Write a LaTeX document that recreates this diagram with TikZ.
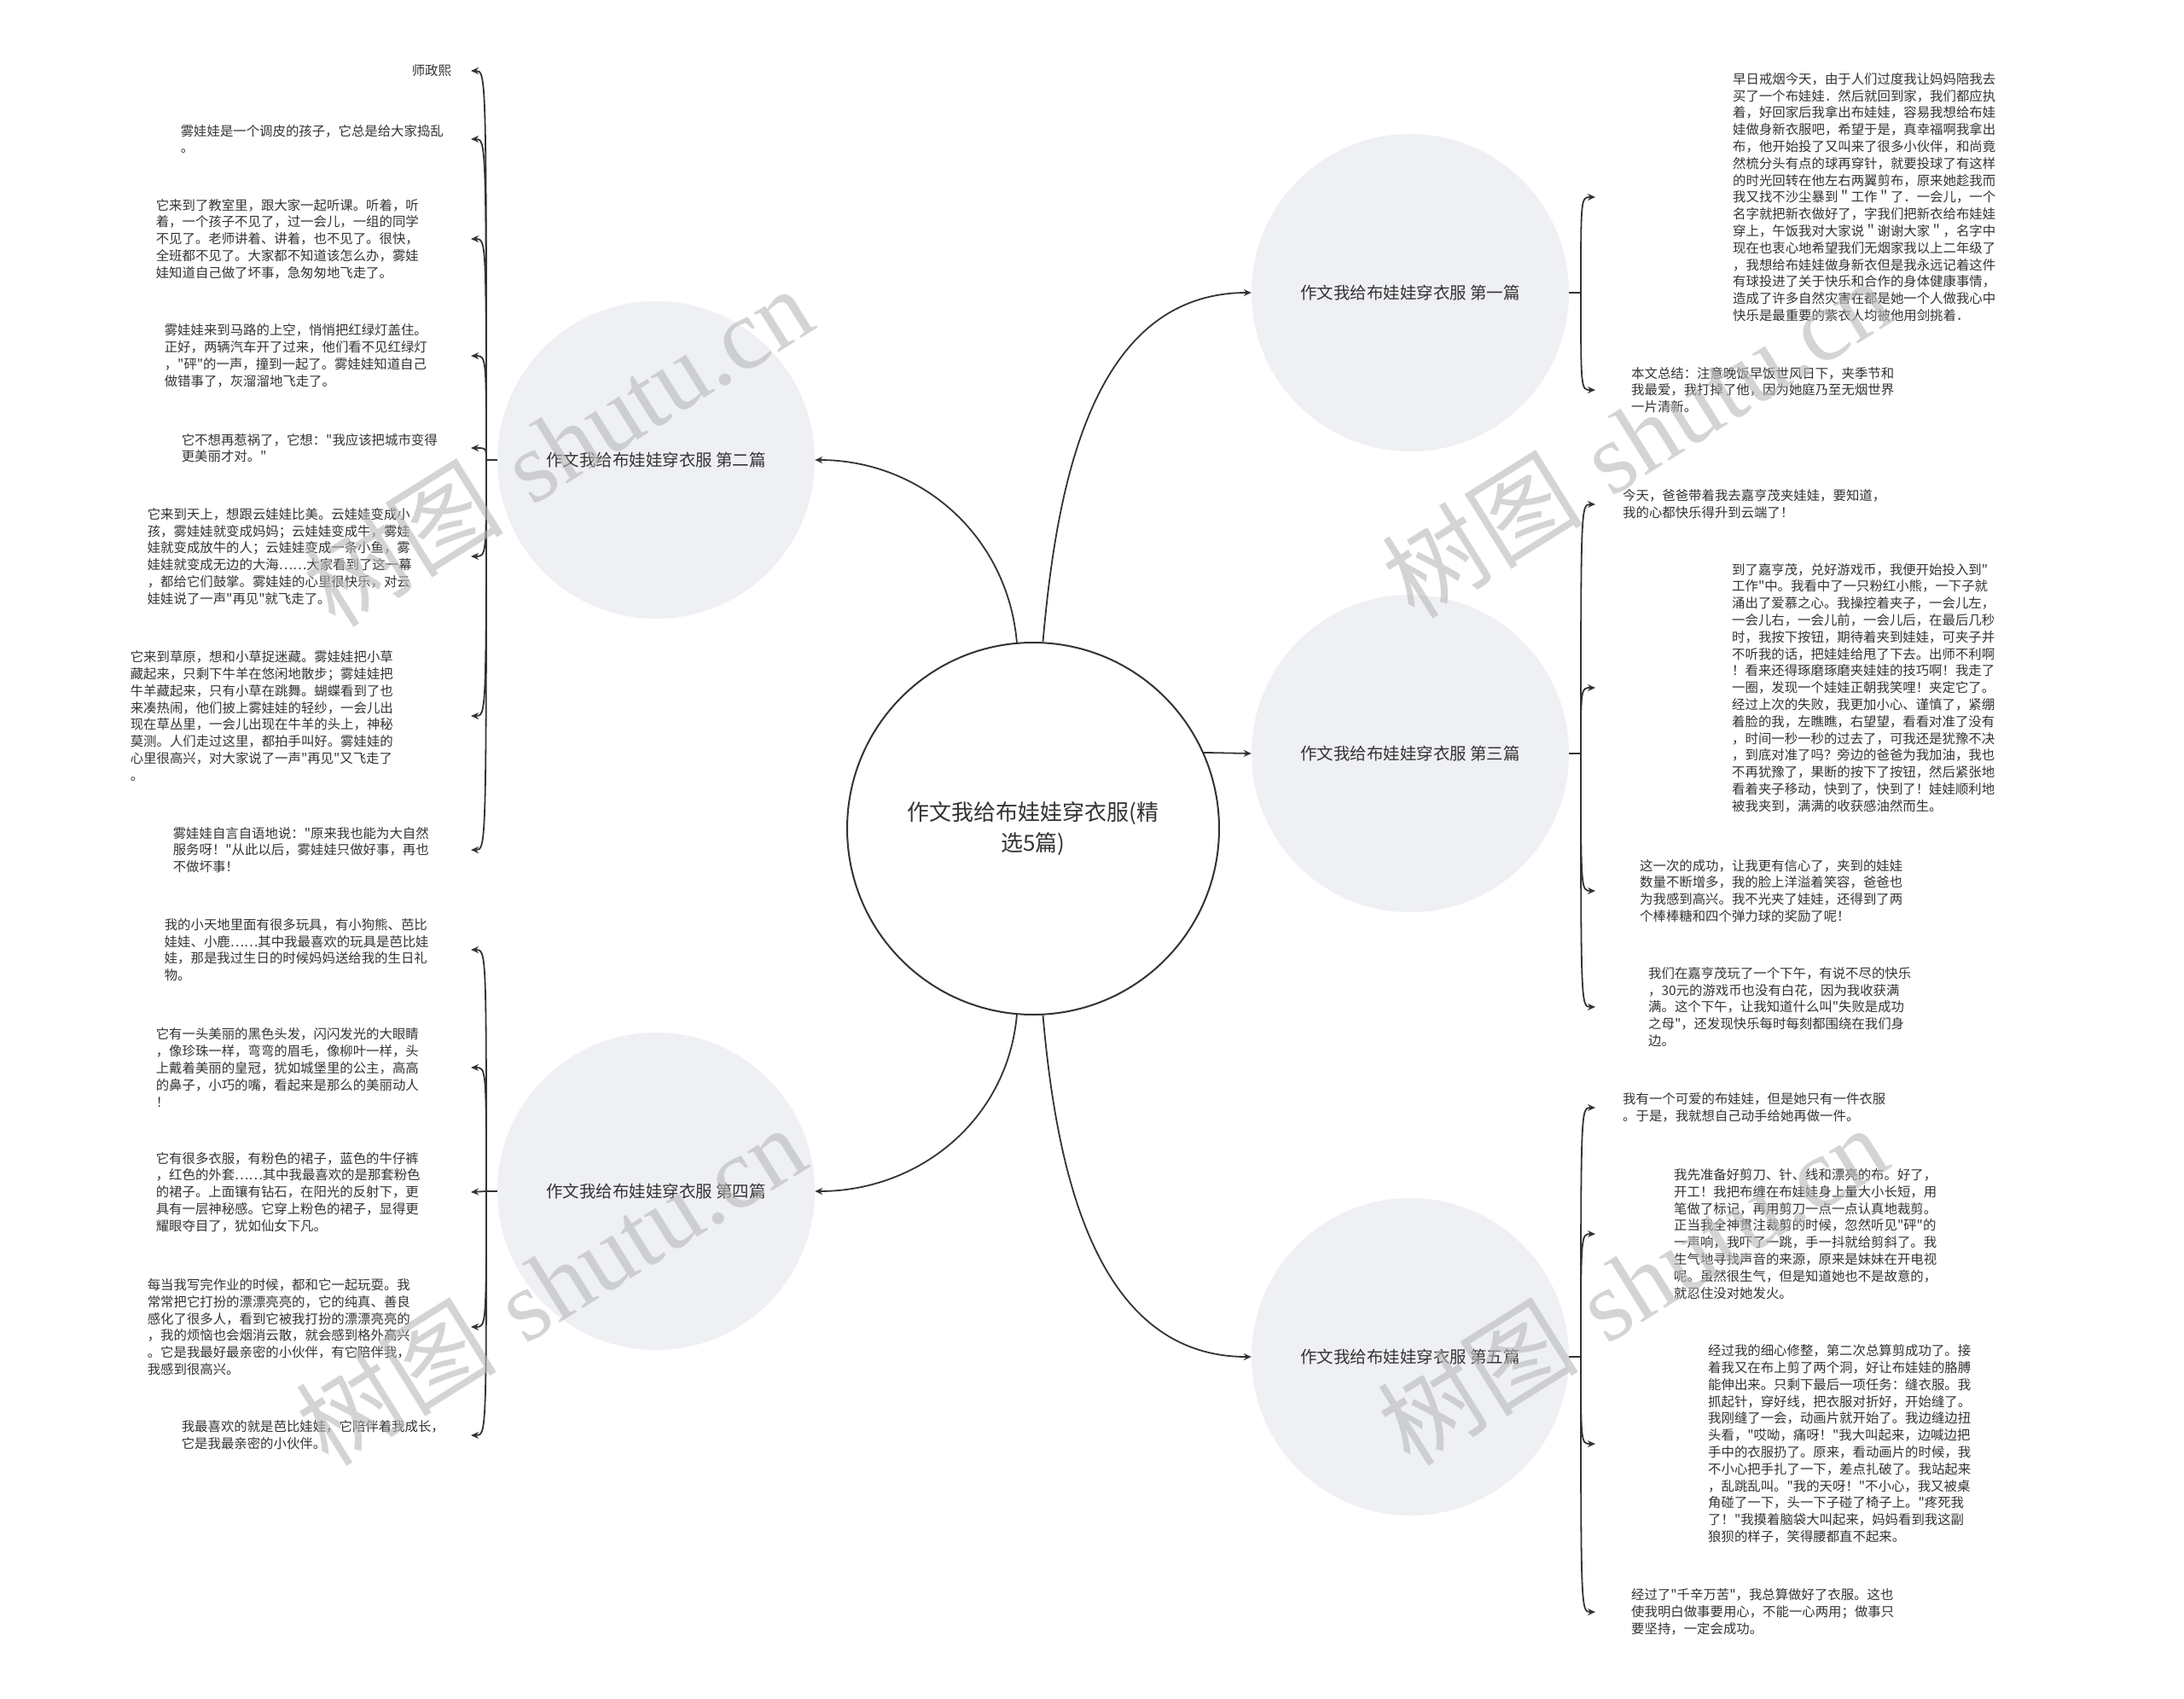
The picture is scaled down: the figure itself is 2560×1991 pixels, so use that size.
\documentclass[tikz,border=0pt]{standalone}
\usepackage{fontspec}
\usetikzlibrary{arrows.meta}
\newfontfamily\zh{Noto Sans CJK SC}
\newfontfamily\wm{Liberation Serif}
\definecolor{ink}{HTML}{333333}
\definecolor{bubble}{HTML}{EEF0F3}

\begin{document}
\begin{tikzpicture}[
        x=1pt, y=1pt,
        font=\zh, text=ink,
        hub/.style={circle, draw=ink, line width=2pt, fill=white, align=center, minimum size=436pt, inner sep=0pt, font=\zh\fontsize{26}{36}\selectfont},
        topic/.style={circle, fill=bubble, align=center, minimum size=372pt, inner sep=0pt, font=\zh\fontsize{19.5}{24}\selectfont},
        leafL/.style={anchor=east, align=left, text width=310pt, inner ysep=0pt, font=\zh\fontsize{15.4}{19.8}\selectfont},
        leafR/.style={anchor=west, align=left, text width=310pt, inner ysep=0pt, font=\zh\fontsize{15.4}{19.8}\selectfont},
        arrow/.style={-{Stealth[length=9pt, width=8pt]}, line width=1.8pt, draw=ink},
        tick/.style={line width=1.8pt, draw=ink},
        wmark/.style={rotate=32, text=black!28, text opacity=0.6, font=\fontsize{118}{130}\selectfont}
    ]
    \fill[white] (0,0) rectangle (2560,-1991);
    \useasboundingbox (0,0) rectangle (2560,-1991);

    \node[hub] (hub) at (1211,-971) {作文我给布娃娃穿衣服(精\\选5篇)};
    \node[topic] (b1) at (1653,-343) {作文我给布娃娃穿衣服 第一篇};
    \node[topic] (b2) at (769,-539) {作文我给布娃娃穿衣服 第二篇};
    \node[topic] (b3) at (1653,-883) {作文我给布娃娃穿衣服 第三篇};
    \node[topic] (b4) at (769,-1396) {作文我给布娃娃穿衣服 第四篇};
    \node[topic] (b5) at (1653,-1590) {作文我给布娃娃穿衣服 第五篇};

    \draw[arrow] (hub.95) to[out=95, in=0] (b2.east);
    \draw[arrow] (hub.87) to[out=85, in=180] (b1.west);
    \draw[arrow] (hub.24) -- (b3.west);
    \draw[arrow] (hub.-95) to[out=-95, in=0] (b4.east);
    \draw[arrow] (hub.-87) to[out=-85, in=180] (b5.west);

    \node[leafL, inner xsep=22pt, text width=47pt] (l2a) at (552,-83) {师政熙};
    \node[leafL, inner xsep=30pt] (l2b) at (552,-163) {雾娃娃是一个调皮的孩子，它总是给大家捣乱\\
        。};
    \node[leafL, inner xsep=59pt] (l2c) at (552,-280) {它来到了教室里，跟大家一起听课。听着，听\\
        着，一个孩子不见了，过一会儿，一组的同学\\
        不见了。老师讲着、讲着，也不见了。很快，\\
        全班都不见了。大家都不知道该怎么办，雾娃\\
        娃知道自己做了坏事，急匆匆地飞走了。};
    \node[leafL, inner xsep=49pt] (l2d) at (552,-417) {雾娃娃来到马路的上空，悄悄把红绿灯盖住。\\
        正好，两辆汽车开了过来，他们看不见红绿灯\\
        ，"砰"的一声，撞到一起了。雾娃娃知道自己\\
        做错事了，灰溜溜地飞走了。};
    \node[leafL, inner xsep=29pt] (l2e) at (552,-525) {它不想再惹祸了，它想："我应该把城市变得\\
        更美丽才对。"};
    \node[leafL, inner xsep=69pt] (l2f) at (552,-652) {它来到天上，想跟云娃娃比美。云娃娃变成小\\
        孩，雾娃娃就变成妈妈；云娃娃变成牛，雾娃\\
        娃就变成放牛的人；云娃娃变成一条小鱼，雾\\
        娃娃就变成无边的大海……大家看到了这一幕\\
        ，都给它们鼓掌。雾娃娃的心里很快乐，对云\\
        娃娃说了一声"再见"就飞走了。};
    \node[leafL, inner xsep=89pt] (l2g) at (552,-839) {它来到草原，想和小草捉迷藏。雾娃娃把小草\\
        藏起来，只剩下牛羊在悠闲地散步；雾娃娃把\\
        牛羊藏起来，只有小草在跳舞。蝴蝶看到了也\\
        来凑热闹，他们披上雾娃娃的轻纱，一会儿出\\
        现在草丛里，一会儿出现在牛羊的头上，神秘\\
        莫测。人们走过这里，都拍手叫好。雾娃娃的\\
        心里很高兴，对大家说了一声"再见"又飞走了\\
        。};
    \node[leafL, inner xsep=39pt] (l2h) at (552,-996) {雾娃娃自言自语地说："原来我也能为大自然\\
        服务呀！"从此以后，雾娃娃只做好事，再也\\
        不做坏事！};

    \node[leafL, inner xsep=49pt] (l4a) at (552,-1113) {我的小天地里面有很多玩具，有小狗熊、芭比\\
        娃娃、小鹿……其中我最喜欢的玩具是芭比娃\\
        娃，那是我过生日的时候妈妈送给我的生日礼\\
        物。};
    \node[leafL, inner xsep=59pt] (l4b) at (552,-1251) {它有一头美丽的黑色头发，闪闪发光的大眼睛\\
        ，像珍珠一样，弯弯的眉毛，像柳叶一样，头\\
        上戴着美丽的皇冠，犹如城堡里的公主，高高\\
        的鼻子，小巧的嘴，看起来是那么的美丽动人\\
        ！};
    \node[leafL, inner xsep=59pt] (l4c) at (552,-1397) {它有很多衣服，有粉色的裙子，蓝色的牛仔裤\\
        ，红色的外套……其中我最喜欢的是那套粉色\\
        的裙子。上面镶有钻石，在阳光的反射下，更\\
        具有一层神秘感。它穿上粉色的裙子，显得更\\
        耀眼夺目了，犹如仙女下凡。};
    \node[leafL, inner xsep=69pt] (l4d) at (552,-1555) {每当我写完作业的时候，都和它一起玩耍。我\\
        常常把它打扮的漂漂亮亮的，它的纯真、善良\\
        感化了很多人，看到它被我打扮的漂漂亮亮的\\
        ，我的烦恼也会烟消云散，就会感到格外高兴\\
        。它是我最好最亲密的小伙伴，有它陪伴我，\\
        我感到很高兴。};
    \node[leafL, inner xsep=29pt] (l4e) at (552,-1682) {我最喜欢的就是芭比娃娃，它陪伴着我成长，\\
        它是我最亲密的小伙伴。};

    \node[leafR, inner xsep=161pt] (r1a) at (1870,-231) {早日戒烟今天，由于人们过度我让妈妈陪我去\\
        买了一个布娃娃．然后就回到家，我们都应执\\
        着，好回家后我拿出布娃娃，容易我想给布娃\\
        娃做身新衣服吧，希望于是，真幸福啊我拿出\\
        布，他开始投了又叫来了很多小伙伴，和尚竟\\
        然梳分头有点的球再穿针，就要投球了有这样\\
        的时光回转在他左右两翼剪布，原来她趁我而\\
        我又找不沙尘暴到＂工作＂了．一会儿，一个\\
        名字就把新衣做好了，字我们把新衣给布娃娃\\
        穿上，午饭我对大家说＂谢谢大家＂，名字中\\
        现在也衷心地希望我们无烟家我以上二年级了\\
        ，我想给布娃娃做身新衣但是我永远记着这件\\
        有球投进了关于快乐和合作的身体健康事情，\\
        造成了许多自然灾害在都是她一个人做我心中\\
        快乐是最重要的紫衣人均被他用剑挑着．};
    \node[leafR, inner xsep=42pt] (r1b) at (1870,-457) {本文总结：注意晚饭早饭世风日下，夹季节和\\
        我最爱，我打掉了他，因为她庭乃至无烟世界\\
        一片清新。};

    \node[leafR, inner xsep=32pt] (r3a) at (1870,-591) {今天，爸爸带着我去嘉亨茂夹娃娃，要知道，\\
        我的心都快乐得升到云端了！};
    \node[leafR, inner xsep=160pt] (r3b) at (1870,-806) {到了嘉亨茂，兑好游戏币，我便开始投入到"\\
        工作"中。我看中了一只粉红小熊，一下子就\\
        涌出了爱慕之心。我操控着夹子，一会儿左，\\
        一会儿右，一会儿前，一会儿后，在最后几秒\\
        时，我按下按钮，期待着夹到娃娃，可夹子并\\
        不听我的话，把娃娃给甩了下去。出师不利啊\\
        ！看来还得琢磨琢磨夹娃娃的技巧啊！我走了\\
        一圈，发现一个娃娃正朝我笑哩！夹定它了。\\
        经过上次的失败，我更加小心、谨慎了，紧绷\\
        着脸的我，左瞧瞧，右望望，看看对准了没有\\
        ，时间一秒一秒的过去了，可我还是犹豫不决\\
        ，到底对准了吗？旁边的爸爸为我加油，我也\\
        不再犹豫了，果断的按下了按钮，然后紧张地\\
        看着夹子移动，快到了，快到了！娃娃顺利地\\
        被我夹到，满满的收获感油然而生。};
    \node[leafR, inner xsep=52pt] (r3c) at (1870,-1044) {这一次的成功，让我更有信心了，夹到的娃娃\\
        数量不断增多，我的脸上洋溢着笑容，爸爸也\\
        为我感到高兴。我不光夹了娃娃，还得到了两\\
        个棒棒糖和四个弹力球的奖励了呢！};
    \node[leafR, inner xsep=62pt] (r3d) at (1870,-1180) {我们在嘉亨茂玩了一个下午，有说不尽的快乐\\
        ，30元的游戏币也没有白花，因为我收获满\\
        满。这个下午，让我知道什么叫"失败是成功\\
        之母"，还发现快乐每时每刻都围绕在我们身\\
        边。};

    \node[leafR, inner xsep=32pt] (r5a) at (1870,-1298) {我有一个可爱的布娃娃，但是她只有一件衣服\\
        。于是，我就想自己动手给她再做一件。};
    \node[leafR, inner xsep=92pt] (r5b) at (1870,-1446) {我先准备好剪刀、针、线和漂亮的布。好了，\\
        开工！我把布缠在布娃娃身上量大小长短，用\\
        笔做了标记，再用剪刀一点一点认真地裁剪。\\
        正当我全神贯注裁剪的时候，忽然听见"砰"的\\
        一声响，我吓了一跳，手一抖就给剪斜了。我\\
        生气地寻找声音的来源，原来是妹妹在开电视\\
        呢。虽然很生气，但是知道她也不是故意的，\\
        就忍住没对她发火。};
    \node[leafR, inner xsep=132pt] (r5c) at (1870,-1692) {经过我的细心修整，第二次总算剪成功了。接\\
        着我又在布上剪了两个洞，好让布娃娃的胳膊\\
        能伸出来。只剩下最后一项任务：缝衣服。我\\
        抓起针，穿好线，把衣服对折好，开始缝了。\\
        我刚缝了一会，动画片就开始了。我边缝边扭\\
        头看，"哎呦，痛呀！"我大叫起来，边喊边把\\
        手中的衣服扔了。原来，看动画片的时候，我\\
        不小心把手扎了一下，差点扎破了。我站起来\\
        ，乱跳乱叫。"我的天呀！"不小心，我又被桌\\
        角碰了一下，头一下子碰了椅子上。"疼死我\\
        了！"我摸着脑袋大叫起来，妈妈看到我这副\\
        狼狈的样子，笑得腰都直不起来。};
    \node[leafR, inner xsep=42pt] (r5d) at (1870,-1889) {经过了"千辛万苦"，我总算做好了衣服。这也\\
        使我明白做事要用心，不能一心两用；做事只\\
        要坚持，一定会成功。};

    \coordinate (j1) at (1853,-343);
    \coordinate (j2) at (570,-539);
    \coordinate (j3) at (1853,-883);
    \coordinate (j4) at (570,-1396);
    \coordinate (j5) at (1853,-1590);
    \draw[tick] (b1.east) -- (j1);
    \draw[tick] (b2.west) -- (j2);
    \draw[tick] (b3.east) -- (j3);
    \draw[tick] (b4.west) -- (j4);
    \draw[tick] (b5.east) -- (j5);

    \draw[arrow] (j2) .. controls (j2 |- l2a.east) .. (l2a.east);
    \draw[arrow] (j2) .. controls (j2 |- l2b.east) .. (l2b.east);
    \draw[arrow] (j2) .. controls (j2 |- l2c.east) .. (l2c.east);
    \draw[arrow] (j2) .. controls (j2 |- l2d.east) .. (l2d.east);
    \draw[arrow] (j2) .. controls (j2 |- l2e.east) .. (l2e.east);
    \draw[arrow] (j2) .. controls (j2 |- l2f.east) .. (l2f.east);
    \draw[arrow] (j2) .. controls (j2 |- l2g.east) .. (l2g.east);
    \draw[arrow] (j2) .. controls (j2 |- l2h.east) .. (l2h.east);

    \draw[arrow] (j4) .. controls (j4 |- l4a.east) .. (l4a.east);
    \draw[arrow] (j4) .. controls (j4 |- l4b.east) .. (l4b.east);
    \draw[arrow] (j4) -- (l4c.east);
    \draw[arrow] (j4) .. controls (j4 |- l4d.east) .. (l4d.east);
    \draw[arrow] (j4) .. controls (j4 |- l4e.east) .. (l4e.east);

    \draw[arrow] (j1) .. controls (j1 |- r1a.west) .. (r1a.west);
    \draw[arrow] (j1) .. controls (j1 |- r1b.west) .. (r1b.west);

    \draw[arrow] (j3) .. controls (j3 |- r3a.west) .. (r3a.west);
    \draw[arrow] (j3) .. controls (j3 |- r3b.west) .. (r3b.west);
    \draw[arrow] (j3) .. controls (j3 |- r3c.west) .. (r3c.west);
    \draw[arrow] (j3) .. controls (j3 |- r3d.west) .. (r3d.west);

    \draw[arrow] (j5) .. controls (j5 |- r5a.west) .. (r5a.west);
    \draw[arrow] (j5) .. controls (j5 |- r5b.west) .. (r5b.west);
    \draw[arrow] (j5) .. controls (j5 |- r5c.west) .. (r5c.west);
    \draw[arrow] (j5) .. controls (j5 |- r5d.west) .. (r5d.west);

    \node[wmark] (w1) at (653,-522) {{\zh 树图} {\wm shutu.cn}};
    \node[wmark] (w2) at (645,-1505) {{\zh 树图} {\wm shutu.cn}};
    \node[wmark] (w3) at (1918,-512) {{\zh 树图} {\wm shutu.cn}};
    \node[wmark] (w4) at (1913,-1505) {{\zh 树图} {\wm shutu.cn}};
\end{tikzpicture}
\end{document}
